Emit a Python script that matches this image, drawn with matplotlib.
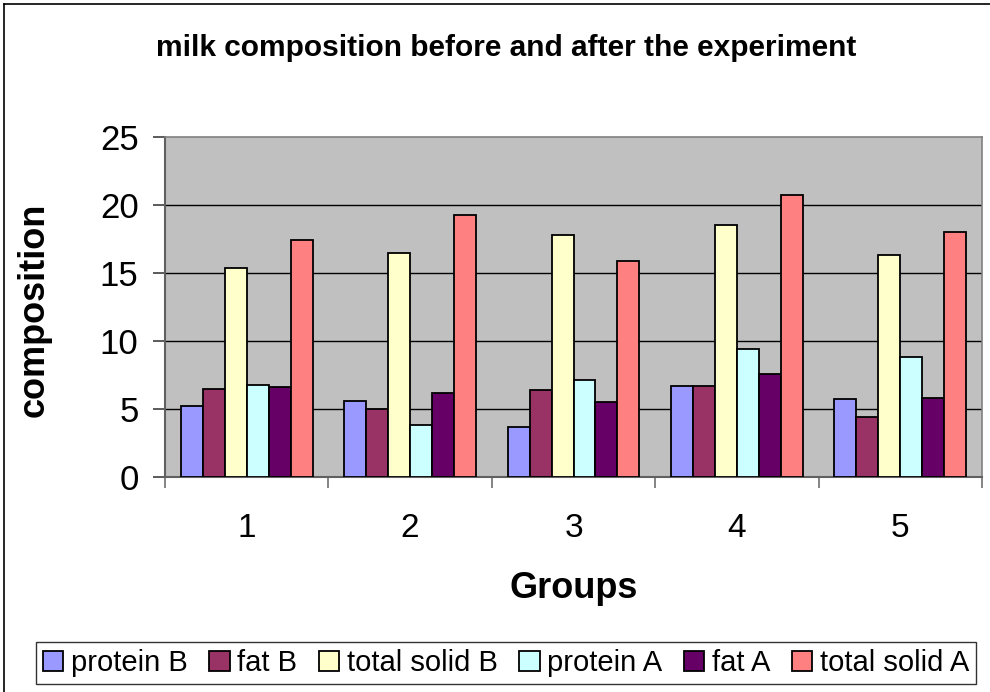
import matplotlib
matplotlib.use("Agg")
import matplotlib.pyplot as plt
from matplotlib.lines import Line2D
import numpy as np

plt.rcParams['font.family'] = ['Liberation Sans', 'DejaVu Sans']

groups = ["1", "2", "3", "4", "5"]
series_names = ["protein B", "fat B", "total solid B", "protein A", "fat A", "total solid A"]
protein_B = [5.2, 5.6, 3.7, 6.7, 5.7]
fat_B = [6.5, 5.0, 6.4, 6.7, 4.4]
total_solid_B = [15.4, 16.5, 17.8, 18.5, 16.3]
protein_A = [6.8, 3.8, 7.1, 9.4, 8.8]
fat_A = [6.6, 6.2, 5.5, 7.6, 5.8]
total_solid_A = [17.4, 19.3, 15.9, 20.7, 18.0]
series_values = [protein_B, fat_B, total_solid_B, protein_A, fat_A, total_solid_A]
colors = ["#9999FF", "#993366", "#FFFFCC", "#CCFFFF", "#660066", "#FF8080"]
yticks = [0, 5, 10, 15, 20, 25]

W, H = 990, 692
fig = plt.figure(figsize=(W / 100, H / 100), dpi=100)
ax = fig.add_axes([165 / W, 1 - 477 / H, (982 - 165) / W, (477 - 137) / H])
ax.set_facecolor("#C0C0C0")

x = np.arange(1, len(groups) + 1)
bw = 0.1346
n = len(series_names)
for j, (name, vals, c) in enumerate(zip(series_names, series_values, colors)):
    ax.bar(x + (j - (n - 1) / 2) * bw, vals, width=bw, color=c, edgecolor="black",
           linewidth=1.3, label=name, zorder=3)

ax.set_xlim(0.5, len(groups) + 0.5)
ax.set_ylim(0, 25)
ax.set_yticks(yticks)
ax.set_yticklabels([str(v) for v in yticks], fontsize=25)
for v in yticks[1:-1]:
    ax.axhline(v, color="black", linewidth=1.0, zorder=1)

# x ticks at category boundaries, labels at centers
ax.set_xticks(np.arange(0.5, len(groups) + 1, 1.0))
ax.set_xticklabels([])
ax.set_xticks(x, minor=True)
ax.set_xticklabels(groups, minor=True, fontsize=24)
ax.tick_params(axis="x", which="minor", length=0, pad=26)
ax.tick_params(axis="x", which="major", direction="out", length=8, width=1.2, color="#707070")
ax.tick_params(axis="y", direction="out", length=9, width=1.2, color="#404040", pad=10)

for s in ["top", "right"]:
    ax.spines[s].set_color("#808080")
    ax.spines[s].set_linewidth(1.2)
for s in ["left", "bottom"]:
    ax.spines[s].set_color("#606060")
    ax.spines[s].set_linewidth(1.5)

fig.text(506 / W, 1 - 48 / H, "milk composition before and after the experiment",
         fontsize=21.5, fontweight="bold", ha="center", va="center")
fig.text(34 / W, 1 - 310 / H, "composition", fontsize=26, fontweight="bold",
         rotation=90, ha="center", va="center")
fig.text(574 / W, 1 - 588 / H, "Groups", fontsize=26, fontweight="bold",
         ha="center", va="center")

handles = [plt.Rectangle((0, 0), 1, 1, facecolor=c, edgecolor="black", linewidth=1.3)
           for c in colors]
leg = fig.legend(handles, series_names, loc="center", bbox_to_anchor=(506 / W, 1 - 663 / H),
                 ncol=6, fontsize=21, frameon=True, fancybox=False, edgecolor="black",
                 handlelength=0.7, handleheight=0.7, handletextpad=0.25, columnspacing=0.75,
                 borderpad=0.25, borderaxespad=0)
leg.get_frame().set_linewidth(1.0)

# chart border (left and top visible)
fig.add_artist(Line2D([4 / W, 4 / W], [0, 1 - 4 / H], color="black", linewidth=1.2,
                      transform=fig.transFigure))
fig.add_artist(Line2D([4 / W, 1], [1 - 4 / H, 1 - 4 / H], color="black", linewidth=1.2,
                      transform=fig.transFigure))

fig.savefig("out.png", dpi=100)
